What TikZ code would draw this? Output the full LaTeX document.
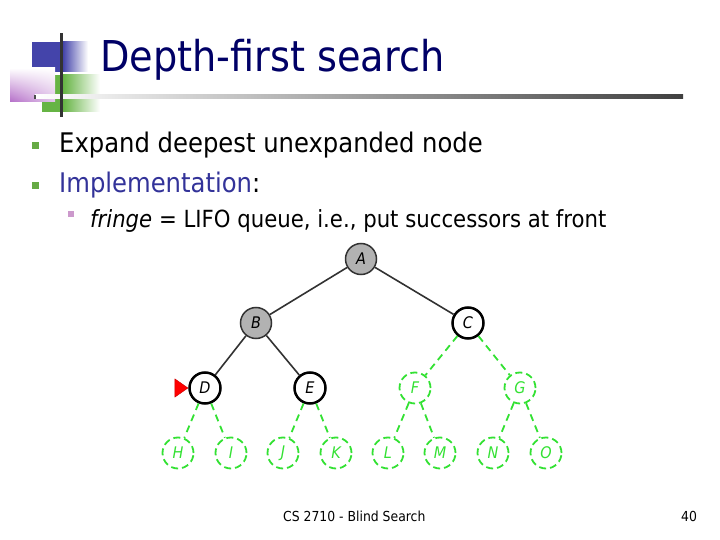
\documentclass[tikz,border=0pt]{standalone}
\usepackage{fontspec}
\setmainfont{DejaVu Sans Condensed}
\usetikzlibrary{shapes.geometric,shadings}
\definecolor{titleblue}{RGB}{0,0,102}
\definecolor{implblue}{RGB}{51,51,153}
\definecolor{bulgreen}{RGB}{102,170,68}
\definecolor{bulpink}{RGB}{204,153,204}
\definecolor{logoblue}{RGB}{68,68,170}
\definecolor{logogreen}{RGB}{102,180,68}
\definecolor{logopink}{RGB}{180,110,200}
\definecolor{treegreen}{RGB}{51,225,51}
\definecolor{edgegray}{RGB}{50,50,50}
\tikzset{
  tn/.style={circle,minimum size=31pt,inner sep=0pt,font=\fontsize{16}{16}\selectfont\itshape},
  expanded/.style={tn,draw=edgegray,line width=1.5pt,fill=black!30},
  frontier/.style={tn,draw=black,line width=2.5pt,fill=white},
  unseen/.style={tn,draw=treegreen,line width=1.8pt,dash pattern=on 7pt off 4pt,text=treegreen},
  solidedge/.style={draw=edgegray,line width=1.6pt},
  dashedge/.style={draw=treegreen,line width=1.8pt,dash pattern=on 7pt off 5pt},
  txt/.style={inner sep=0pt,anchor=base west}
}
\begin{document}
\begin{tikzpicture}[x=1pt,y=-1pt]
\useasboundingbox (0,0) rectangle (720,540);
% logo
\fill[logoblue] (32,42) rectangle (63,72);
\shade[left color=logoblue,right color=white] (63,42) rectangle (88,72);
\fill[logogreen] (42,75) rectangle (63,112);
\shade[left color=logogreen,right color=white] (63,75) rectangle (100,112);
\shade[upper left=white,upper right=white,lower left=logopink,lower right=logopink!40] (10,68) rectangle (55,102);
\shade[left color=white,right color=black!75] (35,95) rectangle (683,99);
\fill[black!70] (34,95) rectangle (35.5,99);
\fill[black!80] (59.5,33) rectangle (62.5,117);
% title
\node[txt,text=titleblue,font=\fontsize{42.5}{42.5}\selectfont] (title) at (100,72) {Depth-first search};
% bullets
\fill[bulgreen] (32,142) rectangle (39,149);
\fill[bulgreen] (32,182) rectangle (39,189);
\fill[bulpink] (68,211) rectangle (74,217);
\node[txt,font=\fontsize{27}{27}\selectfont] (b1) at (59,153) {Expand deepest unexpanded node};
\node[txt,font=\fontsize{27}{27}\selectfont] (b2) at (59,193) {\textcolor{implblue}{Implementation}:};
\node[txt,font=\fontsize{23.6}{23.6}\selectfont] (b3) at (90,227) {\textit{fringe} = LIFO queue, i.e., put successors at front};
% tree
\node[expanded] (A) at (361,259) {A};
\node[expanded] (B) at (256,323) {B};
\node[frontier] (C) at (468,323) {C};
\node[frontier] (D) at (205,388) {D};
\node[frontier] (E) at (310,388) {E};
\node[unseen] (F) at (415,388) {F};
\node[unseen] (G) at (520,388) {G};
\node[unseen] (H) at (178,453) {H};
\node[unseen] (I) at (231,453) {I};
\node[unseen] (J) at (283,453) {J};
\node[unseen] (K) at (336,453) {K};
\node[unseen] (L) at (388,453) {L};
\node[unseen] (M) at (440,453) {M};
\node[unseen] (N) at (493,453) {N};
\node[unseen] (O) at (546,453) {O};
\draw[solidedge] (A) -- (B);
\draw[solidedge] (A) -- (C);
\draw[solidedge] (B) -- (D);
\draw[solidedge] (B) -- (E);
\foreach \p/\c in {C/F,C/G,D/H,D/I,E/J,E/K,F/L,F/M,G/N,G/O}
  \draw[dashedge] (\p) -- (\c);
% red pointer
\node[isosceles triangle,isosceles triangle apex angle=70,fill=red,draw=red!80!black,minimum height=13pt,minimum width=18pt,inner sep=0pt,anchor=apex] (ptr) at (D.west) {};
% footer
\node[txt,font=\fontsize{13.8}{13.8}\selectfont] (foot) at (283,521) {CS 2710 - Blind Search};
\node[txt,font=\fontsize{13.8}{13.8}\selectfont] (page) at (681,521) {40};
\end{tikzpicture}
\end{document}
